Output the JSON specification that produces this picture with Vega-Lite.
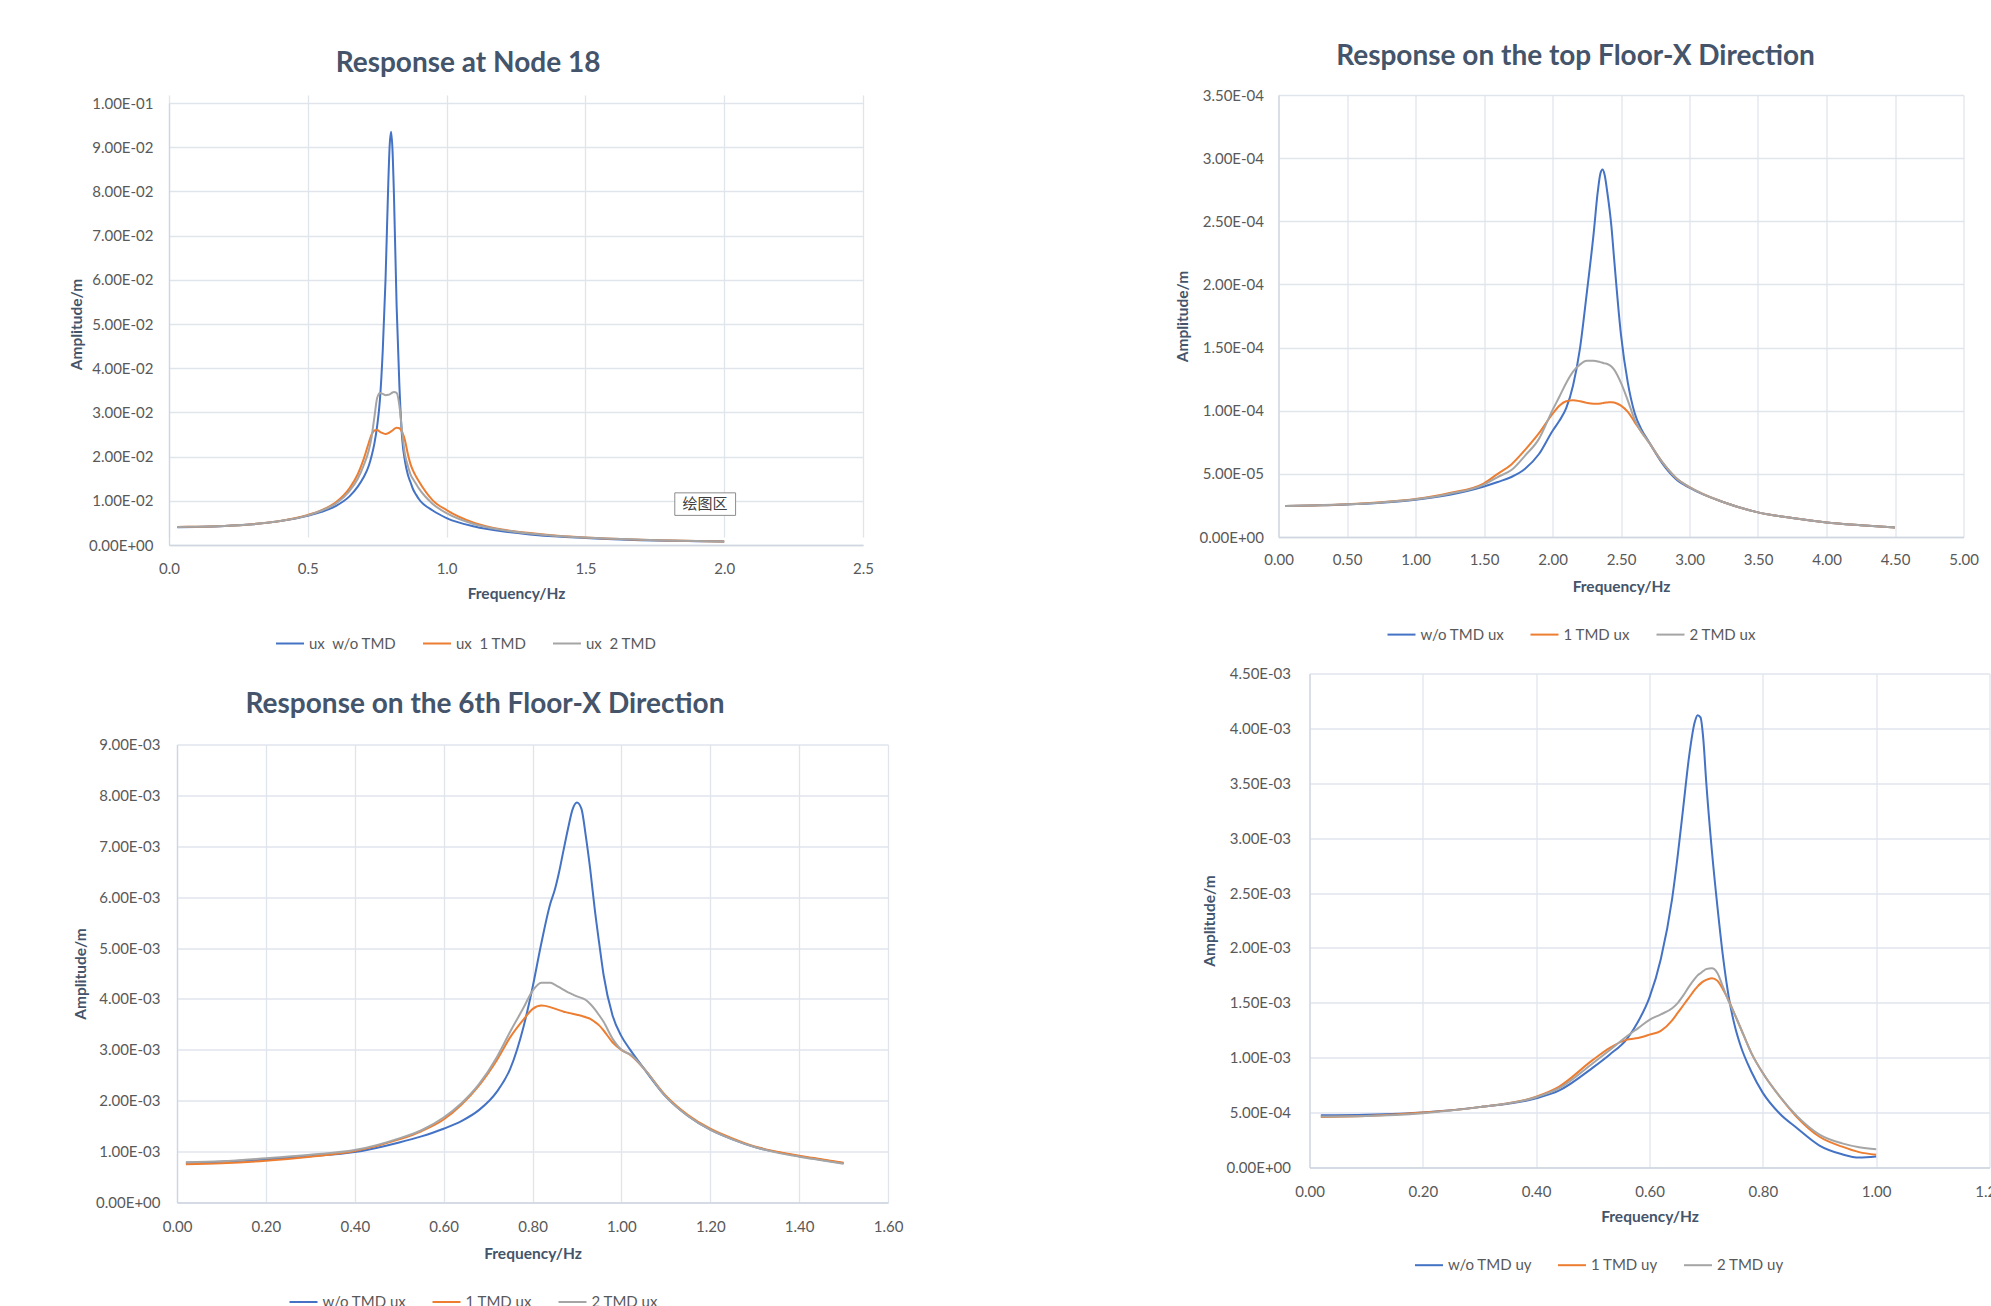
{
  "$schema": "https://vega.github.io/schema/vega-lite/v6.json",
  "background": "white",
  "padding": {"left": 69, "top": 42, "right": 0, "bottom": 0},
  "config": {
    "font": "Lato",
    "view": {"stroke": null},
    "axis": {"labelFont": "Lato", "labelFontSize": 15, "labelColor": "#595959", "titleFont": "Lato", "titleFontSize": 15.5, "titleFontWeight": "bold", "titleColor": "#44546A", "gridColor": "#e0e5ec", "gridWidth": 1.3, "domainColor": "#cfd6e0", "domainWidth": 1.3, "ticks": false, "labelOverlap": false, "labelFlush": false},
    "legend": {"labelFont": "Lato", "labelFontSize": 15, "labelColor": "#595959", "symbolType": "stroke", "symbolStrokeWidth": 2, "symbolSize": 784, "labelOffset": 4, "columnPadding": 22},
    "title": {"font": "Lato", "fontSize": 28, "fontWeight": "bold", "color": "#44546A", "anchor": "middle", "frame": "group"}
  },
  "datasets": {
    "p1": [
      {"f":0.03,"b":0.0040,"o":0.0041,"g":0.0041},
      {"f":0.1,"b":0.0041,"o":0.00412,"g":0.00412},
      {"f":0.2,"b":0.0043,"o":0.00432,"g":0.00432},
      {"f":0.3,"b":0.0047,"o":0.00472,"g":0.0047},
      {"f":0.4,"b":0.0054,"o":0.00545,"g":0.00542},
      {"f":0.5,"b":0.0066,"o":0.0068,"g":0.0067},
      {"f":0.55,"b":0.0075,"o":0.0079,"g":0.0078},
      {"f":0.6,"b":0.0088,"o":0.0096,"g":0.0093},
      {"f":0.65,"b":0.0110,"o":0.0128,"g":0.0122},
      {"f":0.68,"b":0.0132,"o":0.0160,"g":0.0150},
      {"f":0.70,"b":0.0152,"o":0.0192,"g":0.0178},
      {"f":0.72,"b":0.0180,"o":0.0232,"g":0.0215},
      {"f":0.73,"b":0.0202,"o":0.0250,"g":0.0245},
      {"f":0.74,"b":0.0230,"o":0.0259,"g":0.0290},
      {"f":0.75,"b":0.0270,"o":0.0260,"g":0.0333},
      {"f":0.76,"b":0.0330,"o":0.0256,"g":0.0344},
      {"f":0.77,"b":0.0440,"o":0.0253,"g":0.0342},
      {"f":0.78,"b":0.0600,"o":0.0251,"g":0.0339},
      {"f":0.79,"b":0.0820,"o":0.0253,"g":0.0340},
      {"f":0.795,"b":0.0905,"o":0.0255,"g":0.0341},
      {"f":0.80,"b":0.0935,"o":0.0257,"g":0.0343},
      {"f":0.805,"b":0.0895,"o":0.0259,"g":0.0345},
      {"f":0.81,"b":0.0800,"o":0.0262,"g":0.0346},
      {"f":0.82,"b":0.0540,"o":0.0265,"g":0.0344},
      {"f":0.83,"b":0.0360,"o":0.0264,"g":0.0315},
      {"f":0.84,"b":0.0240,"o":0.0255,"g":0.0255},
      {"f":0.85,"b":0.0190,"o":0.0237,"g":0.0205},
      {"f":0.86,"b":0.0160,"o":0.0207,"g":0.0180},
      {"f":0.87,"b":0.0142,"o":0.0183,"g":0.0160},
      {"f":0.88,"b":0.0125,"o":0.0167,"g":0.0148},
      {"f":0.89,"b":0.0114,"o":0.0155,"g":0.0138},
      {"f":0.90,"b":0.0104,"o":0.0144,"g":0.0128},
      {"f":0.95,"b":0.0078,"o":0.0101,"g":0.0093},
      {"f":1.0,"b":0.0061,"o":0.0079,"g":0.0072},
      {"f":1.1,"b":0.0042,"o":0.0050,"g":0.0047},
      {"f":1.2,"b":0.0031,"o":0.0035,"g":0.0034},
      {"f":1.3,"b":0.0024,"o":0.0027,"g":0.0026},
      {"f":1.4,"b":0.0019,"o":0.0021,"g":0.00205},
      {"f":1.5,"b":0.0016,"o":0.0017,"g":0.0017},
      {"f":1.6,"b":0.0013,"o":0.00142,"g":0.0014},
      {"f":1.7,"b":0.0011,"o":0.0012,"g":0.0012},
      {"f":1.8,"b":0.00098,"o":0.00104,"g":0.00102},
      {"f":1.9,"b":0.00087,"o":0.00091,"g":0.0009},
      {"f":2.0,"b":0.00078,"o":0.0008,"g":0.0008}
    ],
    "p2": [
      {"f":0.05,"b":2.45e-5,"o":2.45e-5,"g":2.45e-5},
      {"f":0.25,"b":2.5e-5,"o":2.5e-5,"g":2.5e-5},
      {"f":0.5,"b":2.58e-5,"o":2.6e-5,"g":2.59e-5},
      {"f":0.75,"b":2.72e-5,"o":2.76e-5,"g":2.74e-5},
      {"f":1.0,"b":2.95e-5,"o":3.0e-5,"g":2.98e-5},
      {"f":1.25,"b":3.35e-5,"o":3.48e-5,"g":3.42e-5},
      {"f":1.5,"b":4.0e-5,"o":4.25e-5,"g":4.15e-5},
      {"f":1.6,"b":4.35e-5,"o":5.0e-5,"g":4.75e-5},
      {"f":1.7,"b":4.75e-5,"o":5.75e-5,"g":5.3e-5},
      {"f":1.8,"b":5.4e-5,"o":6.9e-5,"g":6.45e-5},
      {"f":1.9,"b":6.55e-5,"o":8.2e-5,"g":7.75e-5},
      {"f":2.0,"b":8.4e-5,"o":9.75e-5,"g":10.05e-5},
      {"f":2.05,"b":9.2e-5,"o":10.4e-5,"g":11.1e-5},
      {"f":2.1,"b":10.2e-5,"o":10.75e-5,"g":12.2e-5},
      {"f":2.15,"b":12.0e-5,"o":10.82e-5,"g":13.1e-5},
      {"f":2.2,"b":14.9e-5,"o":10.75e-5,"g":13.65e-5},
      {"f":2.25,"b":19.3e-5,"o":10.62e-5,"g":13.95e-5},
      {"f":2.3,"b":24.0e-5,"o":10.55e-5,"g":13.95e-5},
      {"f":2.33,"b":27.3e-5,"o":10.55e-5,"g":13.9e-5},
      {"f":2.35,"b":28.8e-5,"o":10.57e-5,"g":13.85e-5},
      {"f":2.365,"b":29.1e-5,"o":10.6e-5,"g":13.8e-5},
      {"f":2.38,"b":28.7e-5,"o":10.63e-5,"g":13.75e-5},
      {"f":2.4,"b":27.3e-5,"o":10.65e-5,"g":13.7e-5},
      {"f":2.43,"b":24.6e-5,"o":10.68e-5,"g":13.5e-5},
      {"f":2.45,"b":22.0e-5,"o":10.65e-5,"g":13.25e-5},
      {"f":2.5,"b":16.0e-5,"o":10.4e-5,"g":12.2e-5},
      {"f":2.55,"b":12.2e-5,"o":9.9e-5,"g":10.8e-5},
      {"f":2.6,"b":9.8e-5,"o":9.1e-5,"g":9.3e-5},
      {"f":2.65,"b":8.5e-5,"o":8.3e-5,"g":8.3e-5},
      {"f":2.7,"b":7.6e-5,"o":7.55e-5,"g":7.55e-5},
      {"f":2.8,"b":5.85e-5,"o":5.95e-5,"g":5.95e-5},
      {"f":2.9,"b":4.6e-5,"o":4.7e-5,"g":4.7e-5},
      {"f":3.0,"b":3.9e-5,"o":3.95e-5,"g":3.95e-5},
      {"f":3.25,"b":2.75e-5,"o":2.75e-5,"g":2.75e-5},
      {"f":3.5,"b":1.95e-5,"o":1.95e-5,"g":1.95e-5},
      {"f":3.75,"b":1.5e-5,"o":1.5e-5,"g":1.5e-5},
      {"f":4.0,"b":1.15e-5,"o":1.15e-5,"g":1.15e-5},
      {"f":4.25,"b":0.93e-5,"o":0.93e-5,"g":0.93e-5},
      {"f":4.5,"b":0.75e-5,"o":0.75e-5,"g":0.75e-5}
    ],
    "p3": [
      {"f":0.02,"b":0.78e-3,"o":0.75e-3,"g":0.79e-3},
      {"f":0.1,"b":0.80e-3,"o":0.77e-3,"g":0.81e-3},
      {"f":0.2,"b":0.85e-3,"o":0.82e-3,"g":0.87e-3},
      {"f":0.3,"b":0.91e-3,"o":0.90e-3,"g":0.94e-3},
      {"f":0.4,"b":0.99e-3,"o":1.01e-3,"g":1.03e-3},
      {"f":0.5,"b":1.18e-3,"o":1.24e-3,"g":1.26e-3},
      {"f":0.55,"b":1.30e-3,"o":1.40e-3,"g":1.42e-3},
      {"f":0.6,"b":1.45e-3,"o":1.63e-3,"g":1.67e-3},
      {"f":0.64,"b":1.60e-3,"o":1.92e-3,"g":1.95e-3},
      {"f":0.68,"b":1.82e-3,"o":2.30e-3,"g":2.33e-3},
      {"f":0.72,"b":2.18e-3,"o":2.80e-3,"g":2.86e-3},
      {"f":0.75,"b":2.63e-3,"o":3.25e-3,"g":3.36e-3},
      {"f":0.78,"b":3.46e-3,"o":3.60e-3,"g":3.83e-3},
      {"f":0.80,"b":4.22e-3,"o":3.80e-3,"g":4.16e-3},
      {"f":0.82,"b":5.10e-3,"o":3.87e-3,"g":4.32e-3},
      {"f":0.84,"b":5.87e-3,"o":3.84e-3,"g":4.32e-3},
      {"f":0.85,"b":6.14e-3,"o":3.81e-3,"g":4.28e-3},
      {"f":0.86,"b":6.50e-3,"o":3.78e-3,"g":4.23e-3},
      {"f":0.87,"b":6.93e-3,"o":3.75e-3,"g":4.18e-3},
      {"f":0.88,"b":7.35e-3,"o":3.73e-3,"g":4.13e-3},
      {"f":0.89,"b":7.72e-3,"o":3.71e-3,"g":4.09e-3},
      {"f":0.90,"b":7.86e-3,"o":3.69e-3,"g":4.05e-3},
      {"f":0.91,"b":7.74e-3,"o":3.67e-3,"g":4.02e-3},
      {"f":0.92,"b":7.20e-3,"o":3.64e-3,"g":3.98e-3},
      {"f":0.93,"b":6.54e-3,"o":3.61e-3,"g":3.90e-3},
      {"f":0.94,"b":5.77e-3,"o":3.55e-3,"g":3.80e-3},
      {"f":0.95,"b":5.10e-3,"o":3.48e-3,"g":3.68e-3},
      {"f":0.96,"b":4.47e-3,"o":3.38e-3,"g":3.55e-3},
      {"f":0.98,"b":3.68e-3,"o":3.15e-3,"g":3.22e-3},
      {"f":1.00,"b":3.27e-3,"o":3.00e-3,"g":3.00e-3},
      {"f":1.02,"b":3.00e-3,"o":2.90e-3,"g":2.91e-3},
      {"f":1.05,"b":2.64e-3,"o":2.64e-3,"g":2.64e-3},
      {"f":1.10,"b":2.08e-3,"o":2.10e-3,"g":2.08e-3},
      {"f":1.15,"b":1.70e-3,"o":1.72e-3,"g":1.70e-3},
      {"f":1.20,"b":1.43e-3,"o":1.45e-3,"g":1.43e-3},
      {"f":1.25,"b":1.24e-3,"o":1.26e-3,"g":1.24e-3},
      {"f":1.30,"b":1.09e-3,"o":1.10e-3,"g":1.09e-3},
      {"f":1.35,"b":0.99e-3,"o":1.00e-3,"g":0.98e-3},
      {"f":1.40,"b":0.91e-3,"o":0.92e-3,"g":0.90e-3},
      {"f":1.45,"b":0.84e-3,"o":0.85e-3,"g":0.83e-3},
      {"f":1.50,"b":0.77e-3,"o":0.78e-3,"g":0.76e-3}
    ],
    "p4": [
      {"f":0.02,"b":0.475e-3,"o":0.46e-3,"g":0.465e-3},
      {"f":0.1,"b":0.48e-3,"o":0.47e-3,"g":0.47e-3},
      {"f":0.2,"b":0.50e-3,"o":0.50e-3,"g":0.495e-3},
      {"f":0.3,"b":0.55e-3,"o":0.55e-3,"g":0.55e-3},
      {"f":0.4,"b":0.63e-3,"o":0.645e-3,"g":0.64e-3},
      {"f":0.44,"b":0.70e-3,"o":0.735e-3,"g":0.72e-3},
      {"f":0.5,"b":0.91e-3,"o":0.98e-3,"g":0.95e-3},
      {"f":0.53,"b":1.03e-3,"o":1.09e-3,"g":1.07e-3},
      {"f":0.56,"b":1.17e-3,"o":1.165e-3,"g":1.195e-3},
      {"f":0.58,"b":1.33e-3,"o":1.18e-3,"g":1.27e-3},
      {"f":0.6,"b":1.55e-3,"o":1.21e-3,"g":1.345e-3},
      {"f":0.62,"b":1.90e-3,"o":1.245e-3,"g":1.395e-3},
      {"f":0.64,"b":2.45e-3,"o":1.34e-3,"g":1.45e-3},
      {"f":0.65,"b":2.85e-3,"o":1.41e-3,"g":1.50e-3},
      {"f":0.66,"b":3.30e-3,"o":1.48e-3,"g":1.57e-3},
      {"f":0.67,"b":3.75e-3,"o":1.55e-3,"g":1.65e-3},
      {"f":0.68,"b":4.06e-3,"o":1.62e-3,"g":1.72e-3},
      {"f":0.685,"b":4.12e-3,"o":1.65e-3,"g":1.75e-3},
      {"f":0.69,"b":4.10e-3,"o":1.675e-3,"g":1.77e-3},
      {"f":0.695,"b":3.90e-3,"o":1.695e-3,"g":1.79e-3},
      {"f":0.70,"b":3.52e-3,"o":1.71e-3,"g":1.807e-3},
      {"f":0.71,"b":2.89e-3,"o":1.725e-3,"g":1.815e-3},
      {"f":0.72,"b":2.37e-3,"o":1.70e-3,"g":1.77e-3},
      {"f":0.73,"b":1.91e-3,"o":1.62e-3,"g":1.64e-3},
      {"f":0.74,"b":1.55e-3,"o":1.52e-3,"g":1.51e-3},
      {"f":0.75,"b":1.30e-3,"o":1.40e-3,"g":1.40e-3},
      {"f":0.76,"b":1.12e-3,"o":1.28e-3,"g":1.28e-3},
      {"f":0.78,"b":0.87e-3,"o":1.04e-3,"g":1.04e-3},
      {"f":0.80,"b":0.68e-3,"o":0.86e-3,"g":0.86e-3},
      {"f":0.83,"b":0.49e-3,"o":0.645e-3,"g":0.645e-3},
      {"f":0.86,"b":0.36e-3,"o":0.46e-3,"g":0.47e-3},
      {"f":0.90,"b":0.20e-3,"o":0.28e-3,"g":0.30e-3},
      {"f":0.94,"b":0.12e-3,"o":0.19e-3,"g":0.22e-3},
      {"f":0.97,"b":0.09e-3,"o":0.14e-3,"g":0.185e-3},
      {"f":1.0,"b":0.10e-3,"o":0.116e-3,"g":0.166e-3}
    ],
    "box": [{"f":1.822,"f2":2.041,"a":0.0067,"a2":0.0118,"fm":1.931,"am":0.00925,"t":"绘图区"}]
  },
  "resolve": {"scale": {"color": "independent"}},
  "spacing": 271.5,
  "hconcat": [
    {
      "spacing": 38.5,
      "resolve": {"scale": {"color": "independent"}},
      "vconcat": [
        {
          "width": 694, "height": 450,
          "title": {"text": "Response at Node 18", "offset": 17, "dx": -48},
          "layer": [
            {
              "data": {"name": "p1"},
              "transform": [{"fold": ["b", "o", "g"], "as": ["s", "a"]}],
              "mark": {"type": "line", "strokeWidth": 2, "interpolate": "monotone"},
              "encoding": {
                "x": {"field": "f", "type": "quantitative", "scale": {"domain": [0, 2.5], "nice": false},
                  "axis": {"values": [0, 0.5, 1, 1.5, 2, 2.5], "format": ".1f", "title": "Frequency/Hz", "labelPadding": 16, "titlePadding": 10}},
                "y": {"field": "a", "type": "quantitative", "scale": {"domain": [0, 0.1], "nice": false, "range": [450, 8]},
                  "axis": {"values": [0, 0.01, 0.02, 0.03, 0.04, 0.05, 0.06, 0.07, 0.08, 0.09, 0.1], "title": "Amplitude/m", "labelPadding": 16, "titlePadding": 4,
                    "labelExpr": "datum.value==0?'0.00E+00':format(datum.value/pow(10,floor(log(datum.value)/LN10+1e-9)),'.2f')+'E'+(floor(log(datum.value)/LN10+1e-9)<0?'-':'+')+(abs(floor(log(datum.value)/LN10+1e-9))<10?'0':'')+abs(floor(log(datum.value)/LN10+1e-9))"}},
                "color": {"field": "s", "type": "nominal", "scale": {"domain": ["b", "o", "g"], "range": ["#4472C4", "#ED7D31", "#A5A5A5"]},
                  "legend": {"orient": "none", "legendX": 106, "legendY": 533.5, "direction": "horizontal", "title": null,
                    "labelExpr": "datum.label=='b'?'ux\u00a0 w/o TMD':datum.label=='o'?'ux\u00a0 1 TMD':'ux\u00a0 2 TMD'"}}
              }
            },
            {
              "data": {"name": "box"},
              "mark": {"type": "rect", "fill": "white", "stroke": "#8c8c8c", "strokeWidth": 1},
              "encoding": {
                "x": {"field": "f", "type": "quantitative"}, "x2": {"field": "f2"},
                "y": {"field": "a", "type": "quantitative"}, "y2": {"field": "a2"}
              }
            },
            {
              "data": {"name": "box"},
              "mark": {"type": "text", "font": "Noto Sans CJK SC", "fontSize": 15, "color": "#404040"},
              "encoding": {
                "x": {"field": "fm", "type": "quantitative"},
                "y": {"field": "am", "type": "quantitative"},
                "text": {"field": "t"}
              }
            }
          ]
        },
        {
          "width": 719, "height": 458,
          "title": {"text": "Response on the 6th Floor-X Direction", "offset": 19, "dx": -43.5},
          "data": {"name": "p3"},
          "transform": [{"fold": ["b", "o", "g"], "as": ["s", "a"]}],
          "mark": {"type": "line", "strokeWidth": 2, "interpolate": "monotone"},
          "encoding": {
            "x": {"field": "f", "type": "quantitative", "scale": {"domain": [0, 1.6], "nice": false, "range": [8, 719]},
              "axis": {"values": [0, 0.2, 0.4, 0.6, 0.8, 1, 1.2, 1.4, 1.6], "format": ".2f", "title": "Frequency/Hz", "labelPadding": 17, "titlePadding": 12}},
            "y": {"field": "a", "type": "quantitative", "scale": {"domain": [0, 0.009], "nice": false},
              "axis": {"values": [0, 0.001, 0.002, 0.003, 0.004, 0.005, 0.006, 0.007, 0.008, 0.009], "title": "Amplitude/m", "labelPadding": 17, "titlePadding": 7, "offset": -8,
                "labelExpr": "datum.value==0?'0.00E+00':format(datum.value/pow(10,floor(log(datum.value)/LN10+1e-9)),'.2f')+'E'+(floor(log(datum.value)/LN10+1e-9)<0?'-':'+')+(abs(floor(log(datum.value)/LN10+1e-9))<10?'0':'')+abs(floor(log(datum.value)/LN10+1e-9))"}},
            "color": {"field": "s", "type": "nominal", "scale": {"domain": ["b", "o", "g"], "range": ["#4472C4", "#ED7D31", "#A5A5A5"]},
              "legend": {"orient": "none", "legendX": 119.5, "legendY": 542.5, "direction": "horizontal", "title": null,
                "labelExpr": "datum.label=='b'?'w/o TMD ux':datum.label=='o'?'1 TMD ux':'2 TMD ux'"}}
          }
        }
      ]
    },
    {
      "spacing": 23.5,
      "resolve": {"scale": {"color": "independent"}},
      "vconcat": [
        {
          "width": 685, "height": 442,
          "title": {"text": "Response on the top Floor-X Direction", "offset": 17.5, "dx": -45.5},
          "data": {"name": "p2"},
          "transform": [{"fold": ["b", "o", "g"], "as": ["s", "a"]}],
          "mark": {"type": "line", "strokeWidth": 2, "interpolate": "monotone"},
          "encoding": {
            "x": {"field": "f", "type": "quantitative", "scale": {"domain": [0, 5], "nice": false},
              "axis": {"values": [0, 0.5, 1, 1.5, 2, 2.5, 3, 3.5, 4, 4.5, 5], "format": ".2f", "title": "Frequency/Hz", "labelPadding": 15, "titlePadding": 12}},
            "y": {"field": "a", "type": "quantitative", "scale": {"domain": [0, 0.00035], "nice": false},
              "axis": {"values": [0, 0.00005, 0.0001, 0.00015, 0.0002, 0.00025, 0.0003, 0.00035], "title": "Amplitude/m", "labelPadding": 15, "titlePadding": 9,
                "labelExpr": "datum.value==0?'0.00E+00':format(datum.value/pow(10,floor(log(datum.value)/LN10+1e-9)),'.2f')+'E'+(floor(log(datum.value)/LN10+1e-9)<0?'-':'+')+(abs(floor(log(datum.value)/LN10+1e-9))<10?'0':'')+abs(floor(log(datum.value)/LN10+1e-9))"}},
            "color": {"field": "s", "type": "nominal", "scale": {"domain": ["b", "o", "g"], "range": ["#4472C4", "#ED7D31", "#A5A5A5"]},
              "legend": {"orient": "none", "legendX": 108, "legendY": 524.6, "direction": "horizontal", "title": null,
                "labelExpr": "datum.label=='b'?'w/o TMD ux':datum.label=='o'?'1 TMD ux':'2 TMD ux'"}}
          }
        },
        {
          "width": 711, "height": 494,
          "data": {"name": "p4"},
          "transform": [{"fold": ["b", "o", "g"], "as": ["s", "a"]}],
          "mark": {"type": "line", "strokeWidth": 2, "interpolate": "monotone"},
          "encoding": {
            "x": {"field": "f", "type": "quantitative", "scale": {"domain": [0, 1.2], "nice": false, "range": [31, 711]},
              "axis": {"values": [0, 0.2, 0.4, 0.6, 0.8, 1, 1.2], "format": ".2f", "title": "Frequency/Hz", "labelPadding": 17, "titlePadding": 10}},
            "y": {"field": "a", "type": "quantitative", "scale": {"domain": [0, 0.0045], "nice": false},
              "axis": {"values": [0, 0.0005, 0.001, 0.0015, 0.002, 0.0025, 0.003, 0.0035, 0.004, 0.0045], "title": "Amplitude/m", "labelPadding": 19, "titlePadding": 9, "offset": -31,
                "labelExpr": "datum.value==0?'0.00E+00':format(datum.value/pow(10,floor(log(datum.value)/LN10+1e-9)),'.2f')+'E'+(floor(log(datum.value)/LN10+1e-9)<0?'-':'+')+(abs(floor(log(datum.value)/LN10+1e-9))<10?'0':'')+abs(floor(log(datum.value)/LN10+1e-9))"}},
            "color": {"field": "s", "type": "nominal", "scale": {"domain": ["b", "o", "g"], "range": ["#4472C4", "#ED7D31", "#A5A5A5"]},
              "legend": {"orient": "none", "legendX": 135.5, "legendY": 576.7, "direction": "horizontal", "title": null,
                "labelExpr": "datum.label=='b'?'w/o TMD uy':datum.label=='o'?'1 TMD uy':'2 TMD uy'"}}
          }
        }
      ]
    }
  ]
}
